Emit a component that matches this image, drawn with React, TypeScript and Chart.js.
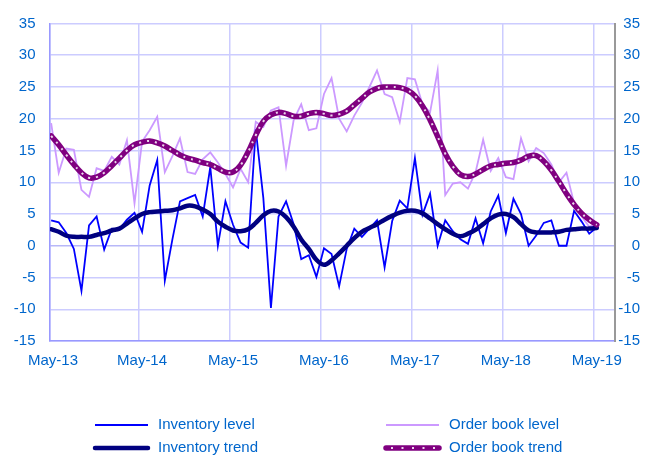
import { useEffect, useRef } from 'react';
import { Chart, registerables } from 'chart.js';

Chart.register(...registerables);

// Monthly observations, May-13 .. May-19
const tickLabels = ['May-13', 'May-14', 'May-15', 'May-16', 'May-17', 'May-18', 'May-19'];

const inventoryLevel = [
  4.0, 3.7, 2.0, -0.5, -7.1, 3.2, 4.6, -0.6, 2.7, 2.6, 4.1, 5.2,
  2.2, 9.5, 13.5, -5.5, 1.0, 7.0, 7.5, 8.0, 4.6, 12.4, 0.0, 7.0,
  3.3, 0.5, -0.3, 18.3, 7.5, -9.8, 4.6, 7.0, 3.4, -2.1, -1.5, -4.9,
  -0.4, -1.3, -6.4, -0.5, 2.7, 1.4, 2.7, 4.0, -3.4, 3.9, 7.1, 5.9,
  13.8, 4.9, 8.2, 0.0, 4.0, 2.3, 1.0, 0.3, 4.3, 0.4, 5.4, 7.9,
  2.0, 7.4, 5.0, 0.0, 1.6, 3.6, 4.0, 0.0, 0.0, 5.5, 3.8, 1.9, 2.9,
];

const inventoryTrend = [
  2.6, 2.2, 1.6, 1.4, 1.4, 1.4, 1.7, 2.0, 2.4, 2.7, 3.5, 4.3,
  5.0, 5.3, 5.4, 5.5, 5.6, 5.9, 6.3, 6.2, 5.7, 5.0, 3.8, 3.0,
  2.4, 2.3, 2.6, 3.6, 4.8, 5.5, 5.4, 4.5, 3.0, 1.0, -0.5, -2.2,
  -3.0, -2.3, -1.2, 0.0, 1.2, 2.2, 2.8, 3.4, 4.1, 4.7, 5.2, 5.5,
  5.5, 5.1, 4.3, 3.4, 2.6, 1.9, 1.5, 1.9, 2.5, 3.4, 4.3, 4.9,
  5.0, 4.5, 3.4, 2.4, 2.1, 2.1, 2.1, 2.2, 2.5, 2.6, 2.7, 2.7, 2.8,
];

const orderBookLevel = [
  19.3, 11.5, 15.3, 15.1, 8.8, 7.7, 12.2, 11.8, 14.0, 12.8, 16.6, 6.7,
  16.4, 18.2, 20.3, 11.6, 14.1, 16.9, 11.6, 11.3, 13.6, 14.7, 13.1, 11.3,
  9.2, 12.1, 10.0, 19.5, 18.7, 21.3, 21.8, 12.6, 19.8, 22.3, 18.2, 18.5,
  23.9, 26.4, 20.0, 18.0, 20.5, 22.5, 25.0, 27.6, 23.9, 23.4, 19.5, 26.4,
  26.2, 22.3, 21.0, 27.6, 8.0, 9.8, 10.0, 9.0, 11.6, 16.7, 11.8, 13.8,
  10.8, 10.5, 16.9, 13.3, 15.4, 14.6, 12.8, 10.0, 11.5, 6.7, 4.6, 3.0, 3.4,
];

const orderBookTrend = [
  17.3, 15.9, 14.3, 12.8, 11.5, 10.7, 10.8, 11.5, 12.6, 13.8, 15.0, 15.9,
  16.3, 16.5, 16.2, 15.7, 15.0, 14.3, 13.8, 13.5, 13.1, 12.8, 12.2, 11.6,
  11.6, 12.7, 14.8, 17.4, 19.6, 20.6, 21.0, 20.8, 20.4, 20.4, 20.8, 21.0,
  20.8, 20.5, 20.7, 21.2, 22.2, 23.2, 24.2, 24.8, 25.0, 25.0, 24.9, 24.5,
  23.6, 22.0, 19.8, 17.2, 14.5, 12.5, 11.2, 10.9, 11.3, 12.0, 12.6, 12.8,
  13.0, 13.1, 13.5, 14.1, 14.2, 13.3, 11.9, 10.1, 8.2, 6.5, 5.1, 4.1, 3.3,
];

const Y_MIN = -15;
const Y_MAX = 35;
const Y_STEP = 5;
const X_MIN = -0.15;
const X_MAX = 74.4;

const FONT = "'Liberation Sans', Arial, sans-serif";
const TEXT_COLOR = '#0066CC';
const GRID_COLOR = '#CCCCFF';

const toPoints = (arr: number[]) => arr.map((v, i) => ({ x: i, y: v }));

const legendPlugin = {
  id: 'customLegend',
  afterDraw(chart: any) {
    const ctx = chart.ctx;
    const items = [
      { label: 'Inventory level', color: '#0000FF', width: 2, x: 95, y: 425, dots: false },
      { label: 'Order book level', color: '#CC99FF', width: 2, x: 386, y: 425, dots: false },
      { label: 'Inventory trend', color: '#000080', width: 4.5, x: 95, y: 448, dots: false },
      { label: 'Order book trend', color: '#800080', width: 5.5, x: 386, y: 448, dots: true },
    ];
    ctx.save();
    for (const it of items) {
      ctx.beginPath();
      ctx.strokeStyle = it.color;
      ctx.lineWidth = it.width;
      ctx.lineCap = it.width > 3 ? 'round' : 'butt';
      ctx.setLineDash([]);
      ctx.moveTo(it.x, it.y);
      ctx.lineTo(it.x + 53, it.y);
      ctx.stroke();
      if (it.dots) {
        ctx.beginPath();
        ctx.strokeStyle = '#EBD6EB';
        ctx.lineWidth = 2;
        ctx.lineCap = 'butt';
        ctx.setLineDash([2, 8.5]);
        ctx.moveTo(it.x + 5, it.y);
        ctx.lineTo(it.x + 50, it.y);
        ctx.stroke();
        ctx.setLineDash([]);
      }
      ctx.fillStyle = TEXT_COLOR;
      ctx.font = `15px ${FONT}`;
      ctx.textBaseline = 'middle';
      ctx.textAlign = 'left';
      ctx.fillText(it.label, it.x + 63, it.y);
    }
    ctx.restore();
  },
};

export default function App() {
  const canvasRef = useRef<HTMLCanvasElement | null>(null);

  useEffect(() => {
    if (!canvasRef.current) return;
    const chart = new Chart(canvasRef.current, {
      type: 'line',
      data: {
        datasets: [
          {
            label: 'Order book trend dots',
            data: toPoints(orderBookTrend),
            borderColor: '#EBD6EB',
            borderWidth: 2,
            borderDash: [2, 6],
            tension: 0.4,
            pointRadius: 0,
            fill: false,
            yAxisID: 'y',
          },
          {
            label: 'Order book trend',
            data: toPoints(orderBookTrend),
            borderColor: '#800080',
            borderWidth: 5.5,
            borderCapStyle: 'round',
            tension: 0.4,
            pointRadius: 0,
            fill: false,
            yAxisID: 'y',
          },
          {
            label: 'Inventory trend',
            data: toPoints(inventoryTrend),
            borderColor: '#000080',
            borderWidth: 4.5,
            borderCapStyle: 'round',
            tension: 0.4,
            pointRadius: 0,
            fill: false,
            yAxisID: 'y',
          },
          {
            label: 'Inventory level',
            data: toPoints(inventoryLevel),
            borderColor: '#0000FF',
            borderWidth: 1.8,
            tension: 0,
            pointRadius: 0,
            fill: false,
            yAxisID: 'y',
          },
          {
            label: 'Order book level',
            data: toPoints(orderBookLevel),
            borderColor: '#CC99FF',
            borderWidth: 1.8,
            tension: 0,
            pointRadius: 0,
            fill: false,
            yAxisID: 'y',
          },
        ],
      },
      options: {
        animation: false,
        responsive: true,
        maintainAspectRatio: false,
        layout: { padding: { left: 0, right: 14, top: 16, bottom: 0 } },
        plugins: {
          legend: { display: false },
          tooltip: { enabled: false },
        },
        scales: {
          x: {
            type: 'linear',
            min: X_MIN,
            max: X_MAX,
            afterBuildTicks: (scale: any) => {
              scale.ticks = tickLabels.map((_, k) => ({ value: Math.max(X_MIN, k * 12 - 0.4) }));
            },
            afterFit: (scale: any) => {
              scale.height = 116;
            },
            grid: { color: GRID_COLOR, lineWidth: 1.5, drawTicks: false },
            border: { color: '#9999FF', width: 1.5 },
            ticks: {
              autoSkip: false,
              maxRotation: 0,
              padding: 11,
              labelOffset: 3,
              color: TEXT_COLOR,
              font: { family: FONT, size: 15 },
              callback: (_v: any, idx: number) => tickLabels[idx],
            },
          },
          y: {
            position: 'left',
            min: Y_MIN,
            max: Y_MAX,
            afterFit: (scale: any) => {
              scale.width = 50;
            },
            grid: {
              color: (c: any) => (c.tick && c.tick.value === 0 ? '#B8B8F8' : GRID_COLOR),
              lineWidth: 1.5,
              drawTicks: false,
            },
            border: { color: '#9999FF', width: 1.5 },
            ticks: {
              stepSize: Y_STEP,
              padding: 14.5,
              color: TEXT_COLOR,
              font: { family: FONT, size: 15 },
            },
          },
          y2: {
            position: 'right',
            min: Y_MIN,
            max: Y_MAX,
            afterFit: (scale: any) => {
              scale.width = 25;
            },
            grid: { display: true, drawOnChartArea: false, drawTicks: false },
            border: { color: '#999999', width: 2 },
            ticks: {
              stepSize: Y_STEP,
              padding: 0,
              crossAlign: 'far',
              color: TEXT_COLOR,
              font: { family: FONT, size: 15 },
            },
          },
        },
      },
      plugins: [legendPlugin],
    } as any);
    return () => chart.destroy();
  }, []);

  return (
    <div style={{ position: 'fixed', left: 0, top: 0, width: 654, height: 457, background: '#fff' }}>
      <canvas ref={canvasRef} />
    </div>
  );
}
